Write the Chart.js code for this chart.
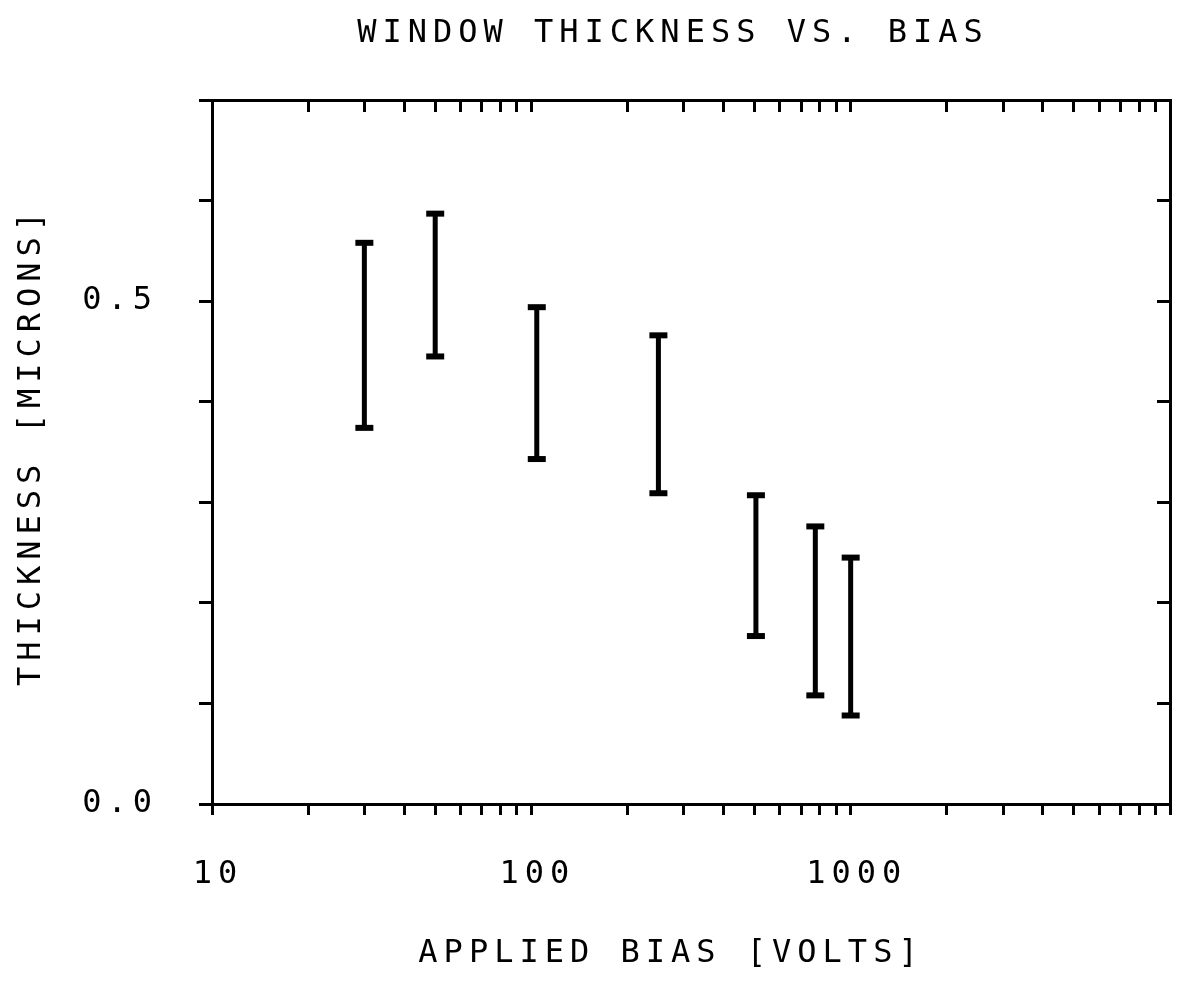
<!DOCTYPE html>
<html><head><meta charset="utf-8">
<style>html,body{margin:0;padding:0;background:#fff;} canvas{display:block;}</style>
<script src="https://cdn.jsdelivr.net/npm/chart.js@4/dist/chart.umd.min.js"></script>
</head><body>
<canvas id="c" width="1177" height="999"></canvas>
<script>
// ---- data ----
const chartTitle = 'WINDOW THICKNESS VS. BIAS';
const xAxisTitle = 'APPLIED BIAS [VOLTS]';
const yAxisTitle = 'THICKNESS [MICRONS]';

const bias      = [30, 50, 104, 250, 505, 775, 1000];          // volts
const thickLow  = [0.374, 0.445, 0.343, 0.309, 0.167, 0.108, 0.088]; // microns
const thickHigh = [0.558, 0.587, 0.494, 0.466, 0.307, 0.276, 0.245]; // microns

const xTickValues = [10,20,30,40,50,60,70,80,90,
                     100,200,300,400,500,600,700,800,900,
                     1000,2000,3000,4000,5000,6000,7000,8000,9000,10000];
const xLabeledTicks = [10, 100, 1000];
const yTickValues = [0, 0.1, 0.2, 0.3, 0.4, 0.5, 0.6, 0.7];
const yLabeledTicks = [0, 0.5];

// ---- style ----
const FONT = 'DejaVu Sans Mono';
const FS = 32;
const LS = 6;
const INK = '#000';

const datasets = bias.map((b, i) => ({
  data: [{x: b, y: thickLow[i]}, {x: b, y: thickHigh[i]}],
  showLine: true,
  borderColor: INK,
  borderWidth: 5,
  pointStyle: 'line',
  pointRadius: 9,
  pointBorderWidth: 6,
  pointBorderColor: INK,
  pointBackgroundColor: INK,
  pointHoverRadius: 9
}));

const setTicks = vals => scale => { scale.ticks = vals.map(v => ({value: v})); };

const plotterText = {
  id: 'plotterText',
  beforeDraw(chart) { chart.ctx.letterSpacing = LS + 'px'; },
  afterDraw(chart) {
    const ctx = chart.ctx;
    ctx.save();
    ctx.letterSpacing = LS + 'px';
    ctx.fillStyle = INK;
    ctx.font = FS + 'px "' + FONT + '"';
    ctx.textAlign = 'center';
    ctx.textBaseline = 'alphabetic';
    ctx.fillText(chartTitle, 670 + LS / 2, 42);
    ctx.fillText(xAxisTitle, 668 + LS / 2, 962);
    ctx.translate(40, 449 - LS / 2);
    ctx.rotate(-Math.PI / 2);
    ctx.fillText(yAxisTitle, 0, 0);
    ctx.restore();
  }
};

const axisGrid = len => ({
  display: true, drawOnChartArea: false, drawTicks: true,
  tickLength: len, color: INK, lineWidth: 3
});
const axisBorder = {display: true, color: INK, width: 3};

const fixSize = (w, h) => s => {
  if (w !== null) s.width = w;
  if (h !== null) s.height = h;
  s.paddingLeft = 0; s.paddingRight = 0; s.paddingTop = 0; s.paddingBottom = 0;
};

new Chart(document.getElementById('c'), {
  type: 'scatter',
  data: { datasets },
  plugins: [plotterText],
  options: {
    responsive: false,
    animation: false,
    devicePixelRatio: 1,
    layout: { autoPadding: false, padding: {left: 0, top: 0, bottom: 0, right: 7} },
    plugins: { legend: {display: false}, tooltip: {enabled: false}, title: {display: false} },
    scales: {
      x: {
        type: 'logarithmic', position: 'bottom', min: 10, max: 10000,
        afterBuildTicks: setTicks(xTickValues),
        afterFit: fixSize(null, 195),
        grid: axisGrid(11), border: axisBorder,
        ticks: {
          autoSkip: false, maxRotation: 0, minRotation: 0, padding: 40, labelOffset: 6,
          color: INK, font: {family: FONT, size: FS},
          callback: (v) => xLabeledTicks.includes(v) ? String(v) : ''
        }
      },
      x2: {
        type: 'logarithmic', position: 'top', min: 10, max: 10000,
        afterBuildTicks: setTicks(xTickValues),
        afterFit: fixSize(null, 100),
        grid: axisGrid(-12), border: axisBorder,
        ticks: { display: false, autoSkip: false, maxRotation: 0, padding: 0 }
      },
      y: {
        type: 'linear', position: 'left', min: 0, max: 0.7,
        afterBuildTicks: setTicks(yTickValues),
        afterFit: fixSize(212, null),
        grid: axisGrid(13), border: axisBorder,
        ticks: {
          autoSkip: false, padding: 41, color: INK, font: {family: FONT, size: FS},
          callback: (v) => yLabeledTicks.some(t => Math.abs(t - v) < 1e-9) ? v.toFixed(1) : ''
        }
      },
      y2: {
        type: 'linear', position: 'right', min: 0, max: 0.7,
        afterBuildTicks: setTicks(yTickValues),
        afterFit: fixSize(0, null),
        grid: axisGrid(-13), border: axisBorder,
        ticks: { display: false, autoSkip: false, padding: 0 }
      }
    }
  }
});
</script>
</body></html>
